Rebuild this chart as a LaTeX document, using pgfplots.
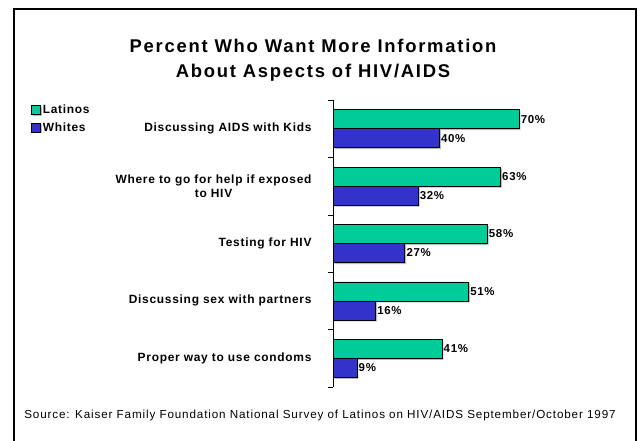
\documentclass[border=0pt]{standalone}
\usepackage{pgfplots}
\pgfplotsset{compat=1.18}
\usepackage{fontspec}
\setmainfont{Liberation Sans}[LetterSpace=6]
\newfontfamily\titlefont{Liberation Sans}[LetterSpace=9.5]
\newfontfamily\srcfont{Liberation Sans}[LetterSpace=7.5]
\definecolor{lat}{RGB}{0,204,153}
\definecolor{wht}{RGB}{51,51,204}
\begin{document}
\begin{tikzpicture}
\useasboundingbox (0,0) rectangle (638bp,-441bp);
\draw[line width=2.5bp] (14bp,-445bp) -- (14bp,-9bp) -- (636bp,-9bp) -- (636bp,-445bp);
\node[font=\titlefont\bfseries\fontsize{18.5}{22}\selectfont] at (313bp,-46bp) {Percent Who Want More Information};
\node[font=\titlefont\bfseries\fontsize{18.5}{22}\selectfont] at (313bp,-73bp) {About Aspects of HIV/AIDS};
\node[font=\srcfont\fontsize{11.7}{14}\selectfont] at (320bp,-415bp) {Source: Kaiser Family Foundation National Survey of Latinos on HIV/AIDS September/October 1997};
\begin{axis}[
  at={(333bp,-387bp)}, anchor=south west, scale only axis,
  width=265.7bp, height=287bp,
  xmin=0, xmax=100, ymin=-0.5, ymax=4.5,
  xbar, bar width=19bp,
  axis x line=none, axis y line=left, axis line style={-,black,line width=0.6bp},
  clip=false,
  /pgf/number format/assume math mode=true,
  ytick={0,...,4},
  yticklabels={Proper way to use condoms, Discussing sex with partners, Testing for HIV, {Where to go for help if exposed\\to HIV}, Discussing AIDS with Kids},
  major tick length=0pt,
  yticklabel style={font=\bfseries\fontsize{12}{14.5}\selectfont, align=center, xshift=-18bp},
  extra y ticks={-0.5,0.5,1.5,2.5,3.5,4.5},
  extra y tick labels={},
  extra y tick style={major tick length=5bp, tick align=outside, tick style={black, line width=0.6bp}},
  point meta=x,
  nodes near coords={\pgfmathprintnumber[assume math mode=true]{\pgfplotspointmeta}\%},
  nodes near coords style={font=\bfseries\fontsize{11.5}{13}\selectfont, anchor=west, inner sep=1.5bp, black},
  legend style={at={(-1.1366,0.9895)}, anchor=north west, draw=none, fill=none, font=\bfseries\fontsize{12}{14}\selectfont, row sep=3bp, inner sep=0pt, cells={anchor=west}},
  legend image code/.code={\draw[#1,draw=black,line width=0.6bp] (0bp,-4.5bp) rectangle (9bp,4.5bp);},
]
\addplot[fill=lat, draw=black, line width=0.6bp, bar shift=9.5bp,
  preaction={fill=gray!55, draw=none, transform canvas={shift={(1.5bp,-1.5bp)}}}]
  coordinates {(70,4) (63,3) (58,2) (51,1) (41,0)};
\addlegendentry{Latinos}
\addplot[fill=wht, draw=black, line width=0.6bp, bar shift=-9.5bp,
  preaction={fill=gray!55, draw=none, transform canvas={shift={(1.5bp,-1.5bp)}}}]
  coordinates {(40,4) (32,3) (27,2) (16,1) (9,0)};
\addlegendentry{Whites}
\end{axis}
\end{tikzpicture}
\end{document}
